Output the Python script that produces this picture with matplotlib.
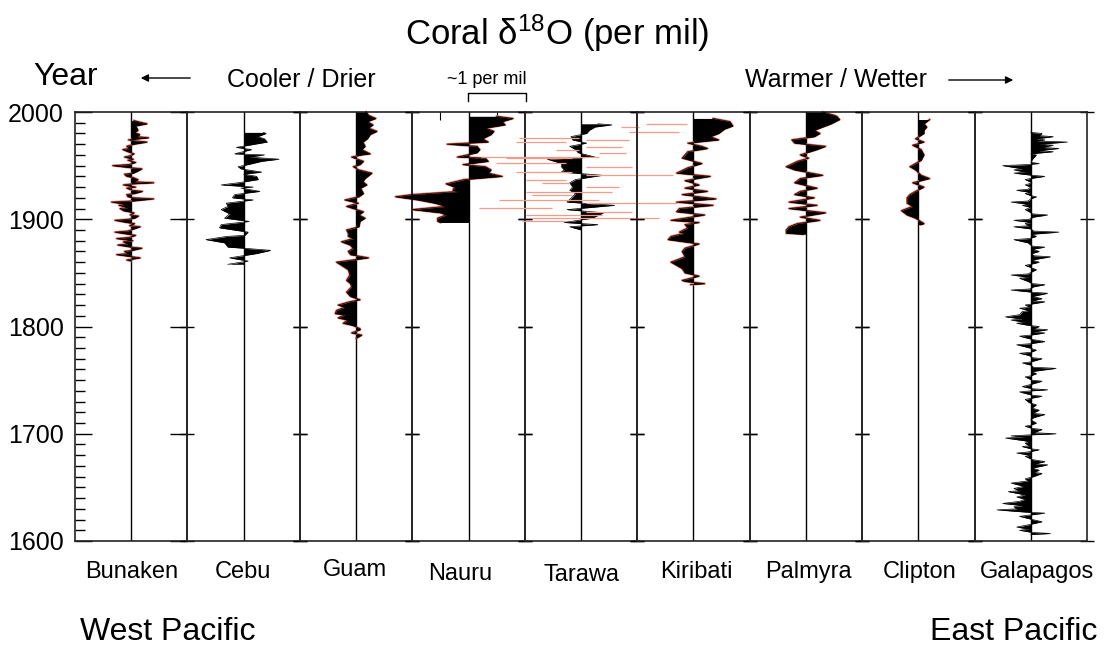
import matplotlib
matplotlib.use("Agg")
import matplotlib.pyplot as plt
from matplotlib.lines import Line2D
from matplotlib.ticker import MultipleLocator

plt.rcParams['font.family'] = ['Liberation Sans', 'DejaVu Sans']
plt.rcParams['mathtext.fontset'] = 'custom'
plt.rcParams['mathtext.rm'] = 'Liberation Sans'

sites = ["Bunaken", "Cebu", "Guam", "Nauru", "Tarawa", "Kiribati", "Palmyra", "Clipton", "Galapagos"]

# coral d18O anomalies (per mil)
bunaken_yr = [1861, 1862, 1864, 1865, 1867, 1868, 1870, 1871, 1873, 1874, 1876, 1877, 1879, 1880, 1882, 1883,
              1885, 1886, 1888, 1889, 1891, 1893, 1894, 1896, 1897, 1899, 1900, 1901, 1903, 1904, 1906, 1908,
              1910, 1911, 1913, 1914, 1916, 1917, 1919, 1920, 1921, 1923, 1924, 1926, 1927, 1929, 1930, 1932,
              1933, 1934, 1935, 1937, 1939, 1940, 1942, 1943, 1945, 1947, 1948, 1950, 1951, 1953, 1955, 1956,
              1958, 1959, 1961, 1963, 1965, 1966, 1968, 1970, 1972, 1973, 1974, 1976, 1977, 1979, 1981, 1983,
              1985, 1987, 1989, 1991, 1992]
bunaken_val = [0.0, -0.08, 0.16, 0.02, -0.26, -0.05, -0.12, 0.02, 0.19, 0.0, -0.24, -0.06, -0.14, 0.03, -0.26, -0.04,
               0.08, -0.05, -0.29, -0.06, 0.05, 0.16, -0.03, 0.06, -0.08, -0.29, -0.05, 0.06, 0.13, -0.02, 0.05, -0.14,
               -0.20, -0.05, -0.22, -0.08, -0.35, 0.03, 0.40, 0.05, -0.06, -0.08, 0.06, 0.20, 0.02, -0.08, 0.08, -0.14,
               0.02, 0.40, 0.05, 0.12, 0.03, -0.08, -0.12, 0.04, 0.12, 0.19, 0.0, -0.33, -0.04, 0.08, -0.06, 0.04,
               -0.12, -0.03, 0.05, -0.06, -0.15, -0.03, -0.08, 0.05, 0.28, 0.08, -0.05, 0.31, 0.10, 0.15, 0.06, 0.12,
               0.10, 0.08, 0.28, 0.12, 0.05]

cebu_yr = [1858, 1861, 1864, 1868, 1871, 1873, 1874, 1878, 1881, 1884, 1885, 1888, 1892, 1895, 1898, 1901,
           1905, 1909, 1912, 1915, 1918, 1920, 1923, 1926, 1929, 1930, 1932, 1934, 1937, 1940, 1942, 1944,
           1947, 1949, 1951, 1954, 1956, 1958, 1960, 1961, 1965, 1967, 1970, 1972, 1975, 1977, 1980, 1981]
cebu_val = [-0.28, 0.08, -0.25, 0.23, 0.48, 0.0, -0.28, -0.34, -0.67, -0.30, 0.02, 0.08, -0.43, -0.40, 0.10, -0.34,
            -0.25, -0.40, -0.28, -0.31, 0.17, -0.20, -0.16, 0.29, -0.05, 0.17, -0.40, -0.10, 0.26, 0.23, 0.0, 0.32,
            -0.05, -0.10, 0.08, 0.32, 0.63, 0.10, 0.37, -0.16, 0.14, -0.13, 0.20, 0.42, 0.37, 0.25, 0.40, 0.35]

guam_yr = [1789, 1792, 1794, 1797, 1798, 1801, 1803, 1806, 1808, 1811, 1812, 1815, 1818, 1820, 1823, 1825,
           1828, 1832, 1837, 1840, 1843, 1848, 1853, 1857, 1860, 1864, 1867, 1870, 1873, 1876, 1879, 1882,
           1884, 1887, 1890, 1893, 1898, 1901, 1904, 1907, 1912, 1915, 1918, 1921, 1924, 1929, 1932, 1935,
           1938, 1943, 1946, 1949, 1951, 1954, 1958, 1960, 1961, 1965, 1968, 1972, 1975, 1979, 1982, 1985,
           1988, 1991, 1994, 1997, 2000]
guam_val = [0.0, 0.10, -0.08, 0.07, 0.07, -0.06, -0.23, -0.15, -0.32, -0.20, -0.37, -0.35, -0.20, -0.32, -0.12, 0.07,
            -0.10, -0.17, -0.08, -0.10, -0.17, -0.11, -0.14, -0.26, -0.35, 0.22, -0.10, -0.14, -0.05, -0.11, -0.26, -0.05,
            -0.14, -0.14, -0.17, 0.05, 0.07, 0.16, 0.05, 0.13, -0.17, 0.04, -0.20, 0.05, 0.13, 0.08, 0.19, 0.12,
            0.16, 0.28, 0.05, -0.05, 0.07, 0.13, -0.08, 0.10, 0.25, 0.10, 0.16, 0.12, 0.20, 0.25, 0.37, 0.22,
            0.30, 0.20, 0.35, 0.22, 0.18]

nauru_yr = [1897, 1898, 1901, 1904, 1906, 1909, 1912, 1915, 1918, 1921, 1923, 1926, 1927, 1930, 1933, 1937,
            1940, 1943, 1946, 1949, 1951, 1954, 1957, 1958, 1962, 1965, 1968, 1970, 1972, 1975, 1979, 1982,
            1985, 1988, 1991, 1994, 1996]
nauru_val = [-0.50, -0.55, -0.55, -0.40, -0.50, -1.00, -0.40, -0.60, -0.90, -1.30, -1.00, -0.15, -0.28, -0.25, -0.40, -0.08,
             0.60, 0.35, 0.40, 0.30, -0.10, 0.35, 0.30, -0.20, 0.15, 0.20, 0.15, -0.38, 0.35, 0.25, 0.40, 0.45,
             0.30, 0.65, 0.60, 0.79, 0.50]

tarawa_yr = [1890, 1893, 1895, 1897, 1901, 1906, 1909, 1913, 1916, 1921, 1924, 1927, 1930, 1934, 1937, 1941,
             1944, 1946, 1949, 1952, 1956, 1958, 1962, 1965, 1968, 1971, 1974, 1977, 1980, 1983, 1986, 1988, 1989]
tarawa_val = [0.0, -0.20, 0.30, -0.30, 0.20, 0.40, -0.25, 0.60, -0.25, -0.15, -0.10, -0.20, -0.15, -0.20, -0.10, 0.38,
              -0.35, -0.30, -0.35, -0.35, -0.60, 0.25, -0.05, -0.10, -0.20, 0.10, -0.15, -0.18, 0.10, 0.15, 0.25, 0.55, 0.30]

# the long light-red traces through the Tarawa column
tarawa_red_yr = [1988.8, 1986.3, 1981.7, 1975.5, 1973.9, 1972.3, 1967.7, 1964.6, 1961.5, 1958.4, 1956.8, 1952.1,
                 1949.0, 1944.3, 1941.3, 1936.6, 1933.5, 1930.4, 1925.7, 1922.6, 1918.0, 1914.9, 1910.2, 1907.0,
                 1904.0, 1900.9, 1898.7]
tarawa_red_lo = [1.16, 0.71, 0.86, -1.10, 0.09, -1.16, 0.09, -0.45, 0.32, -1.77, -1.34, -1.52,
                 0.09, -1.16, 0.09, -0.98, -0.70, 0.09, -0.98, -0.87, -1.46, 0.09, -1.82, 0.09,
                 -0.98, -0.87, -1.05]
tarawa_red_hi = [1.89, 1.04, 1.75, -0.04, 0.86, -0.27, 0.73, -0.04, 0.80, 0.32, -0.16, -0.27,
                 0.91, -0.16, 1.63, -0.27, -0.21, 0.68, 0.55, -0.16, 0.32, 1.70, -0.52, 0.91,
                 0.38, 1.39, -0.27]

kiribati_yr = [1839, 1840, 1842, 1843, 1847, 1850, 1854, 1857, 1860, 1863, 1865, 1870, 1873, 1877, 1881, 1884,
               1887, 1888, 1892, 1895, 1897, 1899, 1904, 1907, 1910, 1913, 1916, 1919, 1923, 1926, 1929, 1932,
               1936, 1940, 1943, 1948, 1952, 1957, 1960, 1963, 1966, 1968, 1971, 1974, 1977, 1980, 1984, 1987,
               1991, 1994]
kiribati_val = [-0.05, 0.20, -0.15, -0.20, 0.10, -0.15, -0.20, -0.30, -0.40, -0.25, -0.15, -0.20, -0.15, 0.10, -0.45, -0.40,
                -0.15, -0.25, -0.10, -0.15, 0.10, -0.40, 0.20, -0.30, -0.25, 0.35, -0.30, 0.40, -0.20, 0.25, -0.15, 0.10,
                -0.15, 0.30, -0.30, -0.10, 0.15, -0.20, -0.15, -0.10, 0.25, 0.15, -0.10, 0.45, 0.30, 0.45, 0.55, 0.70,
                0.65, 0.35]

palmyra_yr = [1886, 1887, 1890, 1893, 1896, 1899, 1902, 1906, 1910, 1913, 1916, 1920, 1923, 1926, 1929, 1934,
              1938, 1941, 1946, 1949, 1954, 1957, 1960, 1965, 1968, 1971, 1974, 1977, 1980, 1983, 1986, 1989,
              1993, 1996, 1997, 2000]
palmyra_val = [-0.05, -0.35, -0.35, -0.30, -0.15, 0.25, -0.10, 0.35, -0.30, 0.20, -0.30, 0.15, -0.20, -0.10, 0.20, -0.20,
               -0.10, 0.30, -0.20, -0.35, -0.15, 0.05, -0.10, 0.20, 0.35, -0.20, -0.25, 0.15, 0.25, 0.15, 0.30, 0.45,
               0.60, 0.55, 0.50, 0.30]

clipton_yr = [1895, 1896, 1901, 1904, 1908, 1912, 1915, 1920, 1923, 1926, 1930, 1934, 1938, 1941, 1946, 1949,
              1955, 1960, 1965, 1969, 1972, 1975, 1980, 1983, 1986, 1989, 1993]
clipton_val = [0.05, 0.10, -0.05, -0.20, -0.30, -0.10, -0.20, -0.20, -0.15, -0.05, 0.10, -0.10, 0.20, 0.05, -0.05, -0.15,
               0.05, 0.10, 0.05, -0.10, 0.10, -0.05, 0.10, 0.10, 0.15, 0.10, 0.20]

# (year, value) pairs for the long Galapagos record
galapagos_pts = [
    (1606, 0.0), (1607, 0.35), (1608, 0.02), (1610, -0.20), (1611, -0.03), (1613, -0.25), (1615, -0.05),
    (1618, 0.20), (1620, 0.03), (1623, -0.20), (1624, -0.05), (1626, 0.25), (1627, -0.10), (1629, -0.60),
    (1630, -0.25), (1632, -0.30), (1633, -0.15), (1635, -0.50), (1637, -0.20), (1639, -0.10), (1641, -0.25),
    (1643, -0.10), (1646, -0.40), (1647, -0.20), (1649, -0.30), (1651, -0.12), (1654, -0.35), (1656, -0.05),
    (1658, -0.10), (1660, 0.05), (1663, 0.20), (1664, 0.05), (1666, 0.15), (1668, 0.03), (1671, 0.30),
    (1672, 0.08), (1674, 0.25), (1676, 0.02), (1679, -0.10), (1680, 0.0), (1682, -0.25), (1683, -0.05),
    (1685, 0.15), (1686, 0.0), (1688, -0.15), (1689, -0.02), (1691, -0.10), (1693, -0.05), (1696, -0.45),
    (1697, -0.10), (1698, -0.35), (1699, 0.0), (1700, 0.45), (1701, 0.05), (1704, 0.20), (1705, 0.02),
    (1707, -0.10), (1708, 0.0), (1710, 0.10), (1713, 0.0), (1715, 0.05), (1718, 0.25), (1719, 0.03),
    (1722, 0.15), (1724, 0.02), (1727, 0.10), (1729, -0.03), (1732, -0.10), (1733, 0.0), (1735, 0.20),
    (1736, 0.02), (1739, -0.20), (1740, 0.0), (1741, 0.30), (1742, 0.02), (1744, -0.15), (1746, 0.0),
    (1749, 0.20), (1750, 0.02), (1753, -0.10), (1754, 0.0), (1756, 0.10), (1758, 0.02), (1761, 0.45),
    (1762, 0.05), (1764, 0.0), (1766, -0.15), (1767, 0.0), (1770, 0.20), (1771, 0.02), (1773, -0.03),
    (1775, -0.20), (1776, 0.0), (1778, 0.10), (1780, -0.02), (1783, -0.25), (1784, 0.0), (1786, 0.25),
    (1788, 0.02), (1791, -0.20), (1792, 0.0), (1794, 0.25), (1795, 0.05), (1797, 0.30), (1798, 0.05),
    (1800, 0.15), (1801, -0.03), (1803, -0.25), (1804, -0.10), (1806, -0.35), (1807, -0.15), (1809, -0.45),
    (1811, -0.20), (1814, -0.15), (1815, -0.03), (1817, -0.20), (1818, -0.02), (1820, -0.10), (1821, 0.02),
    (1823, 0.25), (1824, 0.03), (1826, 0.20), (1828, 0.03), (1831, 0.30), (1832, 0.02), (1834, -0.35),
    (1835, -0.02), (1837, 0.05), (1839, 0.25), (1840, 0.02), (1842, -0.05), (1845, -0.20), (1846, -0.03),
    (1848, -0.35), (1849, -0.05), (1851, 0.02), (1853, 0.10), (1855, 0.0), (1857, -0.10), (1858, 0.0),
    (1860, 0.15), (1862, 0.02), (1865, 0.35), (1866, 0.05), (1868, 0.02), (1870, 0.15), (1872, 0.03),
    (1874, 0.25), (1875, 0.02), (1878, -0.05), (1881, -0.30), (1882, -0.03), (1884, 0.10), (1886, 0.02),
    (1888, 0.50), (1889, 0.05), (1891, 0.0), (1893, -0.30), (1894, -0.03), (1896, -0.10), (1897, 0.0),
    (1899, -0.30), (1900, -0.03), (1902, 0.05), (1904, 0.30), (1905, 0.03), (1907, -0.03), (1909, -0.10),
    (1911, 0.0), (1913, -0.15), (1914, -0.03), (1916, -0.35), (1917, -0.05), (1919, 0.0), (1921, 0.10),
    (1922, 0.0), (1924, -0.10), (1925, 0.0), (1927, -0.25), (1928, -0.05), (1930, 0.0), (1932, -0.10),
    (1934, 0.02), (1937, -0.10), (1938, 0.0), (1940, 0.25), (1941, 0.02), (1943, -0.30), (1944, -0.10),
    (1946, -0.30), (1947, -0.15), (1950, -0.50), (1951, -0.05), (1952, 0.15), (1953, 0.0), (1956, 0.03),
    (1960, 0.10), (1961, 0.0), (1963, 0.40), (1964, 0.15), (1966, 0.50), (1967, 0.20), (1969, 0.40),
    (1970, 0.15), (1972, 0.65), (1973, 0.10), (1974, 0.25), (1975, 0.10), (1977, 0.40), (1978, 0.15),
    (1980, 0.20), (1981, 0.0)]
galapagos_yr = [p[0] for p in galapagos_pts]
galapagos_val = [p[1] for p in galapagos_pts]

series = [(bunaken_yr, bunaken_val), (cebu_yr, cebu_val), (guam_yr, guam_val), (nauru_yr, nauru_val),
          (tarawa_yr, tarawa_val), (kiribati_yr, kiribati_val), (palmyra_yr, palmyra_val),
          (clipton_yr, clipton_val), (galapagos_yr, galapagos_val)]
has_red = [True, False, True, True, False, True, True, True, False]
name_y = [572, 572, 570, 574, 575, 572, 572, 572, 572]
name_dx = [0, -1, -1, -8, 1, 3, 3, 1, 6]

W, H = 1104, 647
red = '#e8705e'
fig = plt.figure(figsize=(W / 100, H / 100), dpi=100)

x0, x1, ytop, ybot = 75, 1087, 112, 541
pw = (x1 - x0) / 9

for i, (yr, val) in enumerate(series):
    ax = fig.add_axes([(x0 + i * pw) / W, 1 - ybot / H, pw / W, (ybot - ytop) / H])
    ax.patch.set_visible(False)
    ax.set_xlim(-1, 1)
    ax.set_ylim(1600, 2000)
    ax.axvline(0, color='black', lw=1.0, zorder=1)
    if has_red[i]:
        ax.plot(val, yr, color=red, lw=1.6, clip_on=False, zorder=2)
    ax.fill_betweenx(yr, 0, val, color='black', lw=0, clip_on=False, zorder=3)
    ax.plot(val, yr, color='black', lw=0.5, clip_on=False, zorder=3)
    if sites[i] == "Tarawa":
        ax.hlines(tarawa_red_yr, tarawa_red_lo, tarawa_red_hi, color='#f29a8c', lw=0.9, clip_on=False, zorder=4)
    for s in ax.spines.values():
        s.set_linewidth(1.2)
        s.set_color('#222222')
    if sites[i] == "Nauru":
        ax.set_xticks([-0.5, 0.5])
        ax.tick_params(axis='x', bottom=False, top=True, labelbottom=False, direction='in', length=6)
    else:
        ax.set_xticks([])
    ax.set_yticks(range(1600, 2001, 100))
    if i == 0:
        ax.yaxis.set_minor_locator(MultipleLocator(10))
        ax.tick_params(axis='y', which='major', left=True, right=True, direction='in', length=12,
                       width=1, labelsize=18, pad=8)
        ax.tick_params(axis='y', which='minor', left=True, right=False, direction='in', length=7, width=1)
    else:
        ax.tick_params(axis='y', left=True, right=True, direction='inout', length=10, width=1,
                       labelleft=False)
    fig.text((x0 + (i + 0.5) * pw + name_dx[i]) / W, 1 - name_y[i] / H, sites[i],
             ha='center', va='center', fontsize=17)

fig.text(557 / W, 1 - 33 / H, r'Coral $\mathregular{\delta^{18}}$O (per mil)', ha='center', va='center', fontsize=25)
fig.text(66 / W, 1 - 77 / H, 'Year', ha='center', va='center', fontsize=23)
fig.text(301 / W, 1 - 80 / H, 'Cooler / Drier', ha='center', va='center', fontsize=18)
fig.text(836 / W, 1 - 80 / H, 'Warmer / Wetter', ha='center', va='center', fontsize=18)
fig.text(487 / W, 1 - 80 / H, '~1 per mil', ha='center', va='center', fontsize=13)
fig.text(80 / W, 1 - 632 / H, 'West Pacific', ha='left', va='center', fontsize=23)
fig.text(1097 / W, 1 - 632 / H, 'East Pacific', ha='right', va='center', fontsize=23)

fig.add_artist(Line2D([468 / W, 468 / W, 526 / W, 526 / W],
                      [1 - 101 / H, 1 - 93 / H, 1 - 93 / H, 1 - 101 / H], color='black', lw=1))
for tail, head, yy in [(193, 138, 78), (946, 1016, 80)]:
    fig.add_artist(matplotlib.patches.FancyArrowPatch((tail / W, 1 - yy / H), (head / W, 1 - yy / H),
                                                      transform=fig.transFigure, arrowstyle='-|>',
                                                      mutation_scale=11, color='black', lw=1))

fig.savefig('out.png', dpi=100)
